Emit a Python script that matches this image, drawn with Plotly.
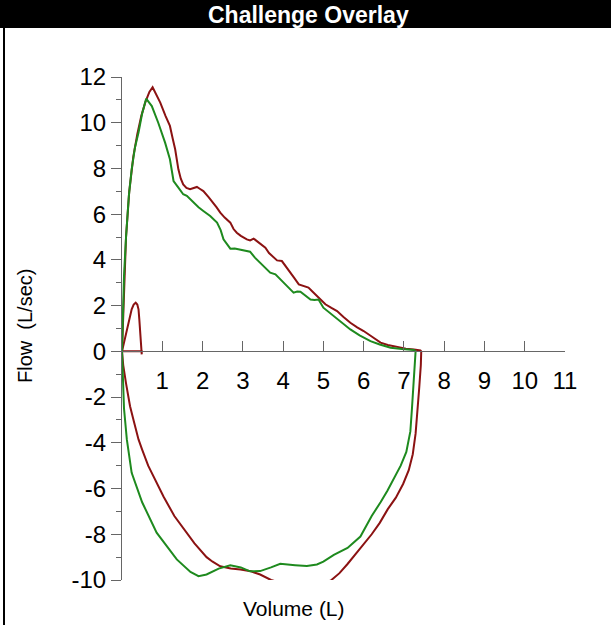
import plotly.graph_objects as go

# ---- data ----
red_exp_vol = [0.0, 0.02, 0.05, 0.1, 0.18, 0.28, 0.38, 0.48, 0.58, 0.68, 0.76, 0.82, 0.95, 1.08, 1.19, 1.26, 1.32,
               1.4, 1.46, 1.52, 1.6, 1.69, 1.78, 1.86, 1.94, 2.02, 2.15, 2.27, 2.35, 2.44, 2.55, 2.69, 2.77, 2.85,
               2.95, 3.1, 3.18, 3.27, 3.39, 3.56, 3.65, 3.76, 3.85, 3.97, 4.08, 4.18, 4.28, 4.39, 4.5, 4.63, 4.74,
               4.84, 4.95, 5.05, 5.2, 5.34, 5.5, 5.67, 5.84, 6.0, 6.2, 6.42, 6.6, 6.83, 7.05, 7.25, 7.41, 7.43]
red_exp_flow = [0.0, 1.0, 3.0, 5.0, 7.0, 8.5, 9.5, 10.3, 10.9, 11.35, 11.55, 11.35, 10.88, 10.3, 9.86, 9.3, 8.84,
                7.96, 7.55, 7.3, 7.15, 7.09, 7.15, 7.19, 7.1, 7.01, 6.75, 6.5, 6.3, 6.07, 5.85, 5.63, 5.35, 5.19,
                5.05, 4.9, 4.85, 4.93, 4.75, 4.53, 4.3, 4.1, 3.98, 3.95, 3.7, 3.44, 3.2, 2.93, 2.85, 2.79, 2.6,
                2.42, 2.25, 2.06, 1.9, 1.76, 1.5, 1.25, 1.05, 0.89, 0.65, 0.38, 0.28, 0.19, 0.12, 0.08, 0.04, 0.0]
red_insp_vol = [7.43, 7.42, 7.38, 7.34, 7.29, 7.22, 7.12, 6.98, 6.8, 6.6, 6.4, 6.2, 6.0, 5.8, 5.6, 5.4, 5.2,
                5.05, 4.85, 4.7, 4.5, 4.35, 4.15, 3.93, 3.7, 3.43, 3.2, 2.94, 2.7, 2.44, 2.25, 2.1, 1.8, 1.52,
                1.3, 1.03, 0.85, 0.65, 0.5, 0.41, 0.3, 0.2, 0.1, 0.03, 0.0]
red_insp_flow = [0.0, -0.6, -1.6, -2.6, -3.6, -4.5, -5.2, -5.8, -6.4, -6.9, -7.5, -8.0, -8.45, -8.9, -9.3, -9.7,
                 -10.0, -10.15, -10.22, -10.15, -10.08, -10.05, -10.1, -10.12, -10.0, -9.76, -9.62, -9.54, -9.5,
                 -9.4, -9.2, -9.0, -8.4, -7.75, -7.2, -6.35, -5.7, -5.0, -4.3, -3.85, -3.1, -2.4, -1.4, -0.6, 0.0]
red_tidal_vol = [0.0, 0.07, 0.12, 0.16, 0.2, 0.24, 0.29, 0.34, 0.38, 0.41, 0.43, 0.45, 0.47, 0.49, 0.49, 0.25, 0.0]
red_tidal_flow = [0.0, 0.53, 0.9, 1.25, 1.6, 1.84, 2.05, 2.13, 2.05, 1.84, 1.4, 0.96, 0.4, -0.13, 0.0, 0.0, 0.0]

green_exp_vol = [0.0, 0.02, 0.05, 0.1, 0.17, 0.24, 0.32, 0.41, 0.5, 0.6, 0.74, 0.9, 1.07, 1.19, 1.28, 1.4, 1.52,
                 1.61, 1.77, 1.9, 2.02, 2.19, 2.36, 2.45, 2.52, 2.6, 2.69, 2.8, 2.94, 3.05, 3.18, 3.3, 3.43, 3.55,
                 3.68, 3.81, 3.9, 4.01, 4.13, 4.26, 4.35, 4.43, 4.55, 4.68, 4.78, 4.88, 5.0, 5.13, 5.26, 5.42,
                 5.59, 5.67, 5.9, 6.17, 6.4, 6.67, 6.95, 7.1, 7.25, 7.29]
green_exp_flow = [0.0, 1.5, 3.3, 5.0, 6.8, 7.96, 8.9, 9.57, 10.4, 11.05, 10.73, 10.0, 9.13, 8.4, 7.45, 7.16, 6.87,
                  6.8, 6.5, 6.3, 6.14, 5.92, 5.63, 5.3, 4.9, 4.7, 4.49, 4.5, 4.46, 4.4, 4.36, 4.1, 3.88, 3.65,
                  3.44, 3.37, 3.2, 3.0, 2.8, 2.57, 2.62, 2.61, 2.45, 2.27, 2.25, 2.27, 1.91, 1.72, 1.55, 1.3,
                  1.04, 0.96, 0.7, 0.45, 0.3, 0.16, 0.1, 0.08, 0.06, 0.0]
green_insp_vol = [7.29, 7.27, 7.25, 7.2, 7.16, 7.06, 6.92, 6.75, 6.59, 6.42, 6.2, 5.92, 5.6, 5.26, 5.0, 4.84,
                  4.59, 4.3, 3.93, 3.7, 3.43, 3.18, 2.95, 2.69, 2.4, 2.1, 1.9, 1.7, 1.36, 0.86, 0.5, 0.24, 0.12,
                  0.05, 0.02, 0.0]
green_insp_flow = [0.0, -0.6, -1.4, -2.5, -3.5, -4.4, -5.0, -5.6, -6.1, -6.6, -7.2, -8.1, -8.6, -8.9, -9.2, -9.32,
                   -9.39, -9.35, -9.29, -9.45, -9.61, -9.62, -9.45, -9.36, -9.5, -9.76, -9.83, -9.65, -9.1, -7.93,
                   -6.6, -5.31, -3.85, -2.5, -1.2, 0.0]

x_ticks = [1, 2, 3, 4, 5, 6, 7, 8, 9, 10, 11]
x_tick_text = ["1", "2", "3", "4", "5", "6", "7", "8", "9", "10", "11"]
y_ticks = [-10, -8, -6, -4, -2, 0, 2, 4, 6, 8, 10, 12]
y_tick_text = ["-10", "-8", "-6", "-4", "-2", "0", "2", "4", "6", "8", "10", "12"]
y_minor = [-9, -7, -5, -3, -1, 1, 3, 5, 7, 9, 11]

RED = "#8b1212"
GREEN = "#1e8a1e"
AX = "#666666"
FONT = "Arial, Liberation Sans, sans-serif"

fig = go.Figure()
fig.add_trace(go.Scatter(x=red_tidal_vol, y=red_tidal_flow, mode="lines",
                         line=dict(color=RED, width=2), hoverinfo="skip"))
fig.add_trace(go.Scatter(x=red_exp_vol + red_insp_vol, y=red_exp_flow + red_insp_flow, mode="lines",
                         line=dict(color=RED, width=2)))
fig.add_trace(go.Scatter(x=green_exp_vol + green_insp_vol, y=green_exp_flow + green_insp_flow, mode="lines",
                         line=dict(color=GREEN, width=2)))

L, R, T, B = 122, 46, 77, 45
W, H = 611, 625
pw, ph = W - L - R, H - T - B


def px(xp):
    return (xp - L) / pw


def py(yp):
    return (H - B - yp) / ph


fig.update_layout(
    width=W, height=H,
    margin=dict(l=L, r=R, t=T, b=B),
    paper_bgcolor="white", plot_bgcolor="white",
    showlegend=False,
    font=dict(family=FONT, color="black"),
    xaxis=dict(range=[0, 11], anchor="free", position=10 / 22, showline=True, linecolor=AX, linewidth=1,
               ticks="inside", ticklen=10, tickcolor=AX, tickvals=x_ticks, ticktext=x_tick_text,
               showgrid=False, zeroline=False,
               tickfont=dict(size=24, family=FONT, color="black"), ticklabelstandoff=8),
    yaxis=dict(range=[-10, 12], showline=True, linecolor=AX, linewidth=1, ticks="outside", ticklen=10,
               tickcolor=AX, tickvals=y_ticks, ticktext=y_tick_text, showgrid=False, zeroline=False,
               minor=dict(tickvals=y_minor, ticks="outside", ticklen=5, tickcolor=AX, showgrid=False),
               tickfont=dict(size=24, family=FONT, color="black"), ticklabelstandoff=0),
    shapes=[
        dict(type="rect", xref="paper", yref="paper", x0=px(-5), x1=px(W + 5), y0=py(28), y1=py(-5),
             fillcolor="black", line=dict(width=0), layer="above"),
        dict(type="line", xref="paper", yref="paper", x0=px(4), x1=px(4), y0=py(28), y1=py(H + 5),
             line=dict(color="black", width=2)),
    ],
    annotations=[
        dict(text="<b>Challenge Overlay</b>", xref="paper", yref="paper", x=px(308), y=py(15),
             xanchor="center", yanchor="middle", showarrow=False,
             font=dict(size=23, color="white", family=FONT)),
        dict(text="Volume (L)", xref="paper", yref="paper", x=px(294), y=py(608),
             xanchor="center", yanchor="middle", showarrow=False, font=dict(size=21, family=FONT)),
        dict(text="Flow \u00a0(L/sec)", xref="paper", yref="paper", x=px(25), y=py(326), textangle=-90,
             xanchor="center", yanchor="middle", showarrow=False, font=dict(size=20, family=FONT)),
    ],
)

fig.write_html("out.html")
